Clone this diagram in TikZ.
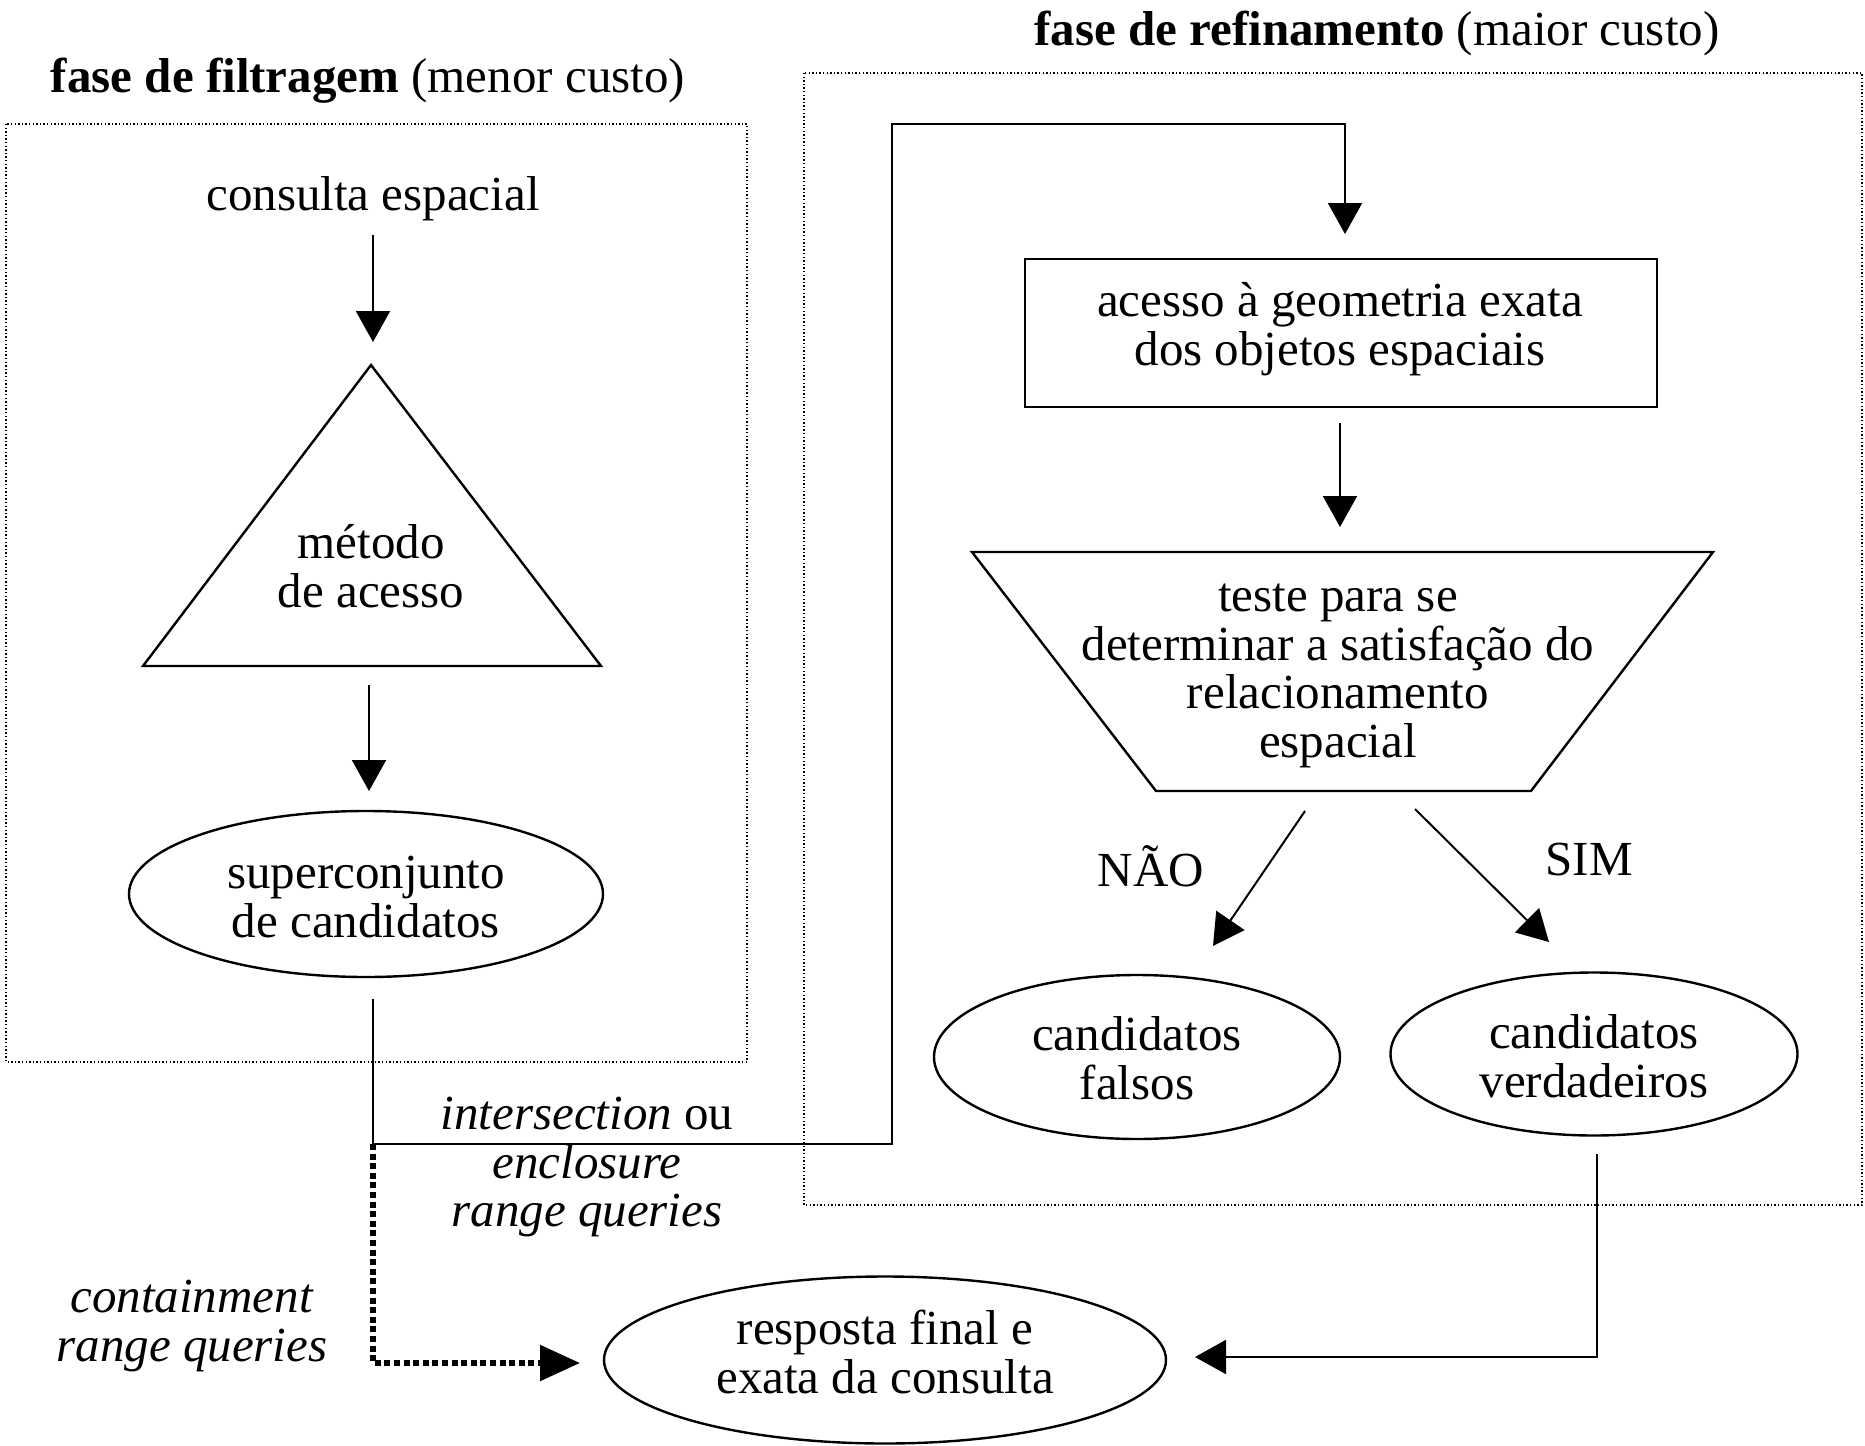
\documentclass[tikz,border=0pt]{standalone}
\usepackage{fontspec}
\setmainfont{Liberation Serif}
\usetikzlibrary{arrows.meta,calc,shapes.geometric}
\begin{document}
\begin{tikzpicture}[x=0.5pt,y=-0.5pt,
  every node/.style={font=\fontsize{24.5}{24.4}\selectfont, inner sep=0pt, align=center},
  conn/.style={line width=1pt, -{Triangle[length=15.5pt,width=17pt]}},
  phase/.style={line width=0.7pt, dash pattern=on 0.7pt off 1.1pt},
  shapeline/.style={line width=1.2pt, line join=miter},
  oval/.style={draw, ellipse, line width=1.2pt},
  thickdot/.style={line width=2.8pt, dash pattern=on 3pt off 1.8pt, -{Triangle[length=20pt,width=17.5pt]}}
]
\useasboundingbox[fill=white] (0,0) rectangle (1865,1446);

% phase frames
\draw[phase] (6,124) rectangle (747,1062);
\draw[phase] (804,73) rectangle (1862,1205);

% titles
\node (t1) at (368,81) {\textbf{fase de filtragem} (menor custo)};
\node (t2) at (1377,33) {\textbf{fase de refinamento} (maior custo)};

% filtering phase
\node (consulta) at (373,199) {consulta espacial};
\draw[shapeline] (371,365) coordinate (triapex) -- (601,666) -- (143,666) -- cycle;
\node (metodo) at (371,566) {método\\de acesso};
\node[oval, minimum width=237pt, minimum height=83pt] (super) at (366,894) {};
\node (supertxt) at (366,897) {superconjunto\\de candidatos};

% refinement phase
\node[draw, line width=1.2pt, minimum width=316pt, minimum height=74pt] (geom) at (1341,333) {};
\node (geomtxt) at (1340,329) {acesso à geometria exata\\dos objetos espaciais};
\draw[shapeline] (972,552) -- (1713,552) -- (1531,791) -- (1156,791) -- cycle;
\node (teste) at (1338,676) {teste para se\\determinar a satisfação do\\relacionamento\\espacial};
\node[oval, minimum width=203pt, minimum height=82pt] (falsos) at (1137,1057) {};
\node (falsostxt) at (1137,1058) {candidatos\\falsos};
\node[oval, minimum width=203.5pt, minimum height=81.5pt] (verd) at (1594,1054) {};
\node (verdtxt) at (1594,1056) {candidatos\\verdadeiros};
\node[oval, minimum width=281pt, minimum height=83.5pt] (resp) at (885,1360) {};
\node (resptxt) at (885,1352) {resposta final e\\exata da consulta};

% labels
\node (nao) at (1151,866) {NÃO};
\node (sim) at (1589,860) {SIM};
\node (intlab) at (587,1167) {\textit{intersection} ou\\\textit{enclosure}\\\textit{range queries}};
\node (contlab) at (192,1326) {\textit{containment}\\\textit{range queries}};

% connector coordinates
\coordinate (c1s) at (373,235);
\coordinate (c1e) at (373,342);
\coordinate (c2s) at (369,685);
\coordinate (c2e) at (369,791);
\coordinate (s1) at (373,999);
\coordinate (j) at (373,1144);
\coordinate (up) at (892,1144);
\coordinate (top1) at (892,124);
\coordinate (top2) at (1345,124);
\coordinate (geomin) at (1345,234);
\coordinate (c3s) at (1340,423);
\coordinate (c3e) at (1340,527);
\coordinate (ns) at (1305,811);
\coordinate (ne) at (1213,946);
\coordinate (ss) at (1415,809);
\coordinate (se) at (1549,942);
\coordinate (vs) at (1597,1154);
\coordinate (vc) at (1597,1357);
\coordinate (ve) at (1195,1357);
\coordinate (dc) at (373,1363);
\coordinate (de) at (580,1363);

% connectors
\draw[conn] (c1s) -- (c1e);
\draw[conn] (c2s) -- (c2e);
\draw[conn] (s1) -- (j) -- (up) -- (top1) -- (top2) -- (geomin);
\draw[conn] (c3s) -- (c3e);
\draw[conn] (ns) -- (ne);
\draw[conn] (ss) -- (se);
\draw[conn] (vs) -- (vc) -- (ve);
\draw[thickdot] (j) -- (dc) -- (de);
\end{tikzpicture}
\end{document}
